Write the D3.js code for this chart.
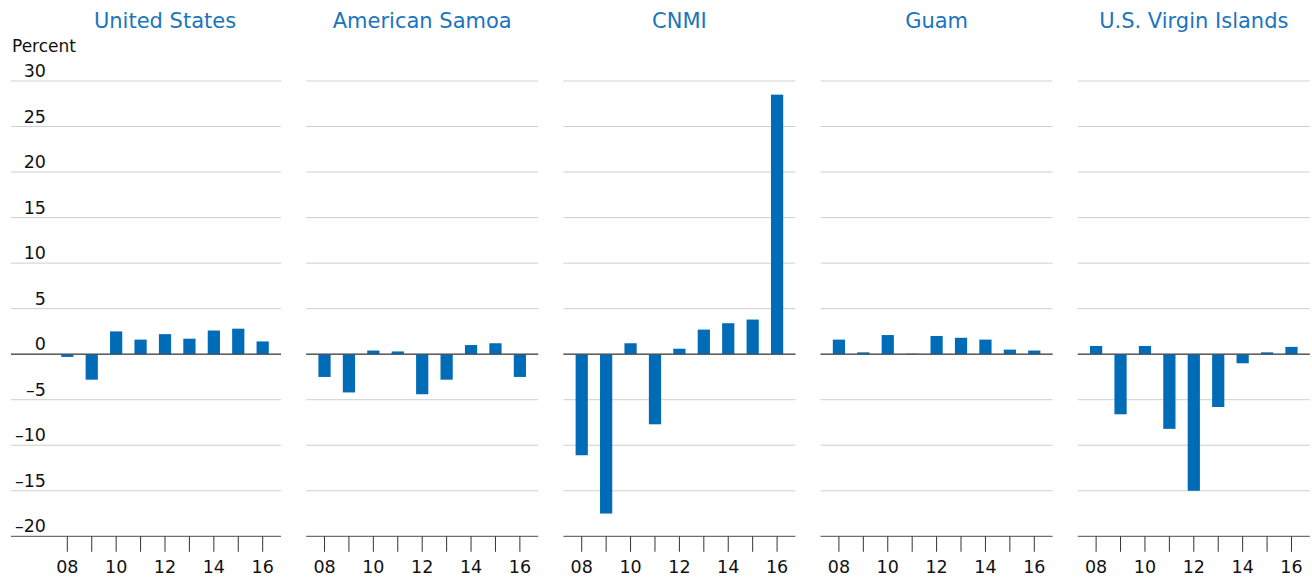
<!DOCTYPE html>
<html>
<head>
<meta charset="utf-8">
<script src="https://cdn.jsdelivr.net/npm/d3@7"></script>
<style>
    body { margin: 0; background: #fff; }
    svg text { font-family: "DejaVu Sans", sans-serif; }
    .grid line { stroke: #cfcfcf; stroke-width: 1; }
    .grid line.dark { stroke: #4d4d4d; }
</style>
</head>
<body>
<div id="chart"></div>
<script>
"use strict";

// chart data
var years = ["08", "09", "10", "11", "12", "13", "14", "15", "16"];
var regions = ["United States", "American Samoa", "CNMI", "Guam", "U.S. Virgin Islands"];
var usValues = [-0.3, -2.8, 2.5, 1.6, 2.2, 1.7, 2.6, 2.8, 1.4];
var asValues = [-2.5, -4.2, 0.4, 0.3, -4.4, -2.8, 1.0, 1.2, -2.5];
var cnmiValues = [-11.1, -17.5, 1.2, -7.7, 0.6, 2.7, 3.4, 3.8, 28.5];
var guamValues = [1.6, 0.2, 2.1, 0.05, 2.0, 1.8, 1.6, 0.5, 0.4];
var usviValues = [0.9, -6.6, 0.9, -8.2, -15.0, -5.8, -1.0, 0.2, 0.8];
var yTicks = [-20, -15, -10, -5, 0, 5, 10, 15, 20, 25, 30];
var labeledYears = ["08", "10", "12", "14", "16"];

var seriesList = [usValues, asValues, cnmiValues, guamValues, usviValues];

var width = 1312;
var height = 578;
var panelWidth = 232;
var panelStep = 257.2;
var firstPanel = 49;
var gridLeft = 11;
var barColor = "#006bb6";
var titleColor = "#1a75bc";

var svg = d3.select("#chart")
    .append("svg")
    .attr("width", width)
    .attr("height", height);

var y = d3.scaleLinear()
    .domain([-20, 30])
    .range([536.3, 81]);

// axis label
svg.append("text")
    .attr("x", 12)
    .attr("y", 52)
    .attr("font-size", 17)
    .attr("fill", "#111")
    .text("Percent");

// y tick labels (left of first panel only)
svg.append("g")
    .selectAll("text")
    .data(yTicks)
    .enter()
    .append("text")
    .attr("x", 46)
    .attr("y", function(d) { return y(d) - 4; })
    .attr("text-anchor", "end")
    .attr("font-size", 17.5)
    .attr("fill", "#111")
    .text(function(d) { return d < 0 ? "\u2013" + Math.abs(d) : d; });

function drawPanel(i) {
    var x0 = firstPanel + i * panelStep;
    var x = d3.scaleBand()
        .domain(years)
        .range([x0, x0 + panelWidth])
        .padding(0.5);
    var panel = svg.append("g").attr("class", "panel");
    var left = i === 0 ? gridLeft : x0;

    // gridlines
    panel.append("g")
        .attr("class", "grid")
        .selectAll("line")
        .data(yTicks)
        .enter()
        .append("line")
        .attr("class", function(d) { return (d === 0 || d === -20) ? "dark" : null; })
        .attr("x1", left)
        .attr("x2", x0 + panelWidth)
        .attr("y1", function(d) { return y(d); })
        .attr("y2", function(d) { return y(d); });

    // bars
    var bars = years.map(function(yr, j) { return { year: yr, value: seriesList[i][j] }; });
    panel.append("g")
        .selectAll("rect")
        .data(bars)
        .enter()
        .append("rect")
        .attr("x", function(d) { return x(d.year); })
        .attr("width", x.bandwidth())
        .attr("y", function(d) { return y(Math.max(0, d.value)); })
        .attr("height", function(d) { return Math.abs(y(d.value) - y(0)); })
        .attr("fill", barColor);

    // redraw zero line above bars
    panel.append("line")
        .attr("x1", left)
        .attr("x2", x0 + panelWidth)
        .attr("y1", y(0))
        .attr("y2", y(0))
        .attr("stroke", "#4d4d4d")
        .attr("stroke-width", 1);

    // x axis
    var xAxis = d3.axisBottom(x)
        .tickSize(15.5)
        .tickPadding(8.5)
        .tickFormat(function(d) { return labeledYears.indexOf(d) >= 0 ? d : ""; });
    var ax = panel.append("g")
        .attr("transform", "translate(0," + y(-20) + ")")
        .call(xAxis);
    ax.select(".domain").remove();
    ax.selectAll(".tick line").attr("stroke", "#333");
    ax.selectAll(".tick text")
        .attr("font-size", 17.5)
        .attr("fill", "#111")
        .attr("font-family", "\"DejaVu Sans\", sans-serif");

    // title
    panel.append("text")
        .attr("x", x0 + panelWidth / 2)
        .attr("y", 28)
        .attr("text-anchor", "middle")
        .attr("font-size", 21)
        .attr("fill", titleColor)
        .text(regions[i]);
}

for (var i = 0; i < regions.length; i++) {
    drawPanel(i);
}
</script>
</body>
</html>
